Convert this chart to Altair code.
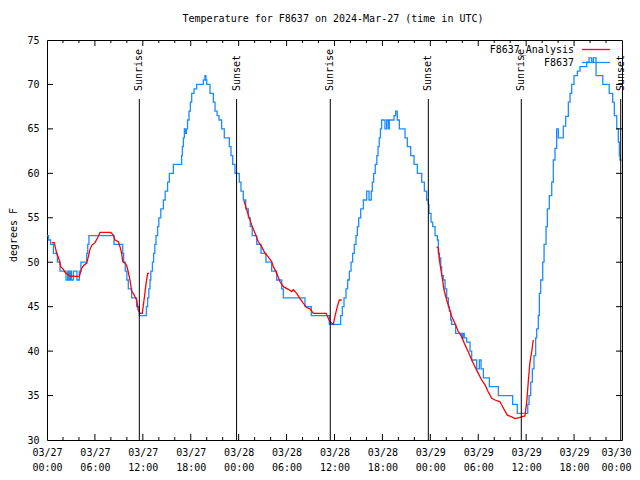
import altair as alt
import pandas as pd

FONT = "DejaVu Sans Mono"
BLUE = "#1a8cff"
RED = "#ff0000"

# Observed station temperature (F8637), hours after 2024-03-27 00:00 UTC, drawn as steps
blue_hours = [0.0, 0.2, 0.45, 0.8, 1.3, 1.63, 2.38, 2.6, 2.75, 2.9, 3.05, 3.3, 3.75, 4.05, 4.25, 4.97,
              5.1, 5.25, 8.39, 9.48, 9.6, 9.8, 10.0, 10.18, 10.6, 11.22, 11.56, 12.45, 12.6, 12.75,
              12.9, 13.0, 13.2, 13.35, 13.5, 13.65, 13.85, 14.0, 14.25, 14.57, 14.8, 15.1, 15.32,
              15.82, 16.86, 16.95, 17.07, 17.2, 17.3, 17.45, 17.6, 17.78, 17.95, 18.12, 18.41,
              18.74, 19.57, 19.78, 19.9, 20.0, 20.41, 20.83, 21.04, 21.3, 21.54, 21.87, 22.2,
              22.83, 23.04, 23.25, 23.54, 24.08, 24.29, 24.58, 24.88, 25.21, 25.45, 25.7, 26.26,
              26.8, 27.42, 28.13, 28.76, 29.39, 29.59, 32.3, 33.1, 35.35, 36.77, 36.98, 37.19,
              37.44, 37.65, 37.86, 38.07, 38.27, 38.48, 38.69, 38.86, 39.03, 39.28, 39.61, 40.03,
              40.32, 40.6, 40.74, 40.9, 41.1, 41.3, 41.45, 41.6, 41.75, 41.9, 42.32, 42.53, 42.74,
              42.86, 43.45, 43.66, 43.86, 44.12, 44.83, 45.12, 45.54, 45.96, 46.37, 46.92, 47.25,
              47.54, 47.75, 47.83, 48.09, 48.3, 48.59, 48.88, 49.0, 49.13, 49.3, 49.42, 49.63,
              49.84, 50.05, 50.26, 50.38, 50.55, 50.67, 51.17, 51.93, 52.1, 52.25, 52.55, 52.97,
              53.18, 53.8, 54.14, 54.35, 54.64, 55.39, 56.52, 58.31, 58.89, 60.2, 60.36, 60.57,
              60.77, 60.98, 61.19, 61.32, 61.52, 61.65, 61.82, 62.07, 62.24, 62.49, 62.65, 62.9,
              63.2, 63.4, 63.61, 63.82, 64.03, 64.65, 64.95, 65.28, 65.49, 65.7, 65.99, 66.41,
              66.74, 67.58, 67.87, 68.2, 68.41, 68.75, 69.59, 70.4, 70.83, 71.04, 71.34, 71.54,
              71.67, 71.75, 71.95]
blue_temps = [53, 52.5, 52, 51, 50, 49, 48, 49, 48, 49, 48, 49, 48, 49, 50, 51,
              52, 53, 52, 51, 50, 49, 48, 47, 46, 45, 44, 45, 46, 47,
              48, 49, 50, 51, 52, 53, 54, 55, 56, 57, 58, 59, 60,
              61, 62, 63, 64, 65, 64.5, 65, 66, 67, 68, 69, 69.5,
              70, 70.5, 71, 70.5, 70, 69, 68, 67, 66.5, 66, 65, 64,
              63, 62, 61, 60, 59, 58, 57, 56, 55, 54, 53, 52,
              51, 50, 49, 48, 47, 46, 45, 44, 43, 44, 45, 46,
              47, 48, 49, 50, 51, 52, 53, 54, 55, 56, 57, 58,
              57, 58, 59, 60, 61, 62, 63, 64, 65, 66, 65, 66, 65,
              66, 66.5, 67, 66, 65, 64, 63, 62, 61, 60, 59, 58,
              57, 56.5, 55.5, 54.5, 54, 53, 52.5, 51, 50.5, 49.5, 48.5, 48,
              47, 46, 45, 44.5, 43.5, 43, 42, 41.5, 42, 41.5, 41, 40,
              39, 38, 39, 38, 37, 36, 35, 34, 33, 34, 35, 36.5,
              38, 39.5, 41.5, 42.5, 44, 46.5, 48, 50, 52, 54, 56, 57.5,
              59, 61.5, 62.8, 65, 64, 65.3, 66.4, 68, 69, 70, 71, 71.5,
              72, 72.5, 73, 72.5, 73, 71, 70, 69, 68, 66.5, 65, 63.5,
              62, 61.5, 61.5]

# Analysis (F8637_Analysis), three overnight runs
red1_hours = [0.59, 0.91, 1.21, 1.54, 1.72, 2.04, 2.25, 2.47, 2.88, 3.72, 4.05, 4.34, 4.55, 4.97,
              5.17, 5.38, 5.6, 6.01, 6.42, 6.64, 7.98, 8.3, 8.51, 8.93, 9.14, 9.35, 9.48, 9.77,
              9.98, 10.18, 10.39, 10.61, 10.81, 11.02, 11.23, 11.43, 11.65, 11.93, 12.15, 12.4,
              12.61, 12.81]
red1_temps = [52.2, 52.2, 51, 50.25, 49.5, 49.2, 48.9, 48.7, 48.45, 48.4, 48.4, 49.3, 49.6, 49.9,
              50.6, 51.45, 51.9, 52.2, 52.9, 53.35, 53.35, 53.06, 52.5, 52.3, 51.75, 51, 50.06, 49.9,
              49.6, 48.9, 48, 46.7, 46.5, 46.1, 45.75, 44.6, 44.25, 44.25, 45.75, 47.6,
              48.75, 48.75]
red2_hours = [24.67, 25.21, 25.63, 26.05, 26.46, 26.88, 27.3, 27.71, 28.14, 28.34, 28.76, 29.18,
              29.59, 30.22, 30.64, 30.84, 31.27, 31.68, 32.09, 32.52, 32.93, 33.35, 34.94, 35.22,
              35.44, 35.85, 36.06, 36.35, 36.6, 36.9]
red2_temps = [56.9, 55.3, 54.2, 53.25, 52.3, 51.75, 51, 50.6, 50.06, 49.5, 48.75, 47.8,
              47.25, 46.95, 46.7, 46.9, 46.5, 45.9, 45.4, 44.9, 44.75, 44.25, 44.25, 43.7,
              43.3, 43.0, 43.9, 45, 45.75, 45.75]
red3_hours = [48.8, 49.0, 49.13, 49.3, 49.5, 49.71, 50.05, 50.38, 50.68, 51.09, 51.5, 51.93, 52.34,
              52.76, 53.18, 53.59, 54.01, 54.43, 54.85, 55.26, 55.69, 56.1, 56.72, 57.14, 57.64,
              58.19, 58.6, 59.02, 59.44, 59.85, 60.07, 60.27, 60.48, 60.69, 60.89]
red3_temps = [51.75, 51.6, 50.25, 49.3, 48.2, 46.9, 45.75, 44.8, 43.9, 43.1, 42.2, 41.6, 40.7,
              39.9, 39.0, 38.25, 37.5, 36.75, 36.2, 35.4, 34.7, 34.5, 34.3, 33.6, 32.8,
              32.6, 32.4, 32.5, 32.6, 32.7, 34.3, 36.6, 38.8, 39.9, 41.25]

sun_hours = [11.56, 23.74, 35.47, 47.75, 59.39, 71.84]
sun_labels = ["Sunrise", "Sunset", "Sunrise", "Sunset", "Sunrise", "Sunset"]

x_label_hours = list(range(0, 73, 6))
x_minor_hours = [h for h in range(2, 72, 2) if h % 6]
x_major_hours = [h for h in range(6, 72, 6)]
y_label_values = list(range(30, 76, 5))
y_tick_values = list(range(35, 75, 5))

title_text = "Temperature for F8637 on 2024-Mar-27 (time in UTC)"
y_title = "degrees F"
legend_names = ["F8637_Analysis", "F8637"]

W, H = 575, 400

blue_df = pd.DataFrame({"h": blue_hours, "t": blue_temps})
red_df = pd.concat([
    pd.DataFrame({"h": red1_hours, "t": red1_temps, "run": 1}),
    pd.DataFrame({"h": red2_hours, "t": red2_temps, "run": 2}),
    pd.DataFrame({"h": red3_hours, "t": red3_temps, "run": 3}),
])
sun_df = pd.DataFrame({"h": sun_hours, "label": sun_labels})

label_expr = ("['03/' + (27 + floor(datum.value / 24)), "
              "(datum.value % 24 < 10 ? '0' : '') + (datum.value % 24) + ':00']")

X = alt.X("h:Q",
          scale=alt.Scale(domain=[0, 72], nice=False, zero=False),
          axis=alt.Axis(values=x_label_hours, labelExpr=label_expr, ticks=False, domain=False,
                        grid=False, labelFont=FONT, labelFontSize=10, labelColor="black",
                        labelPadding=7, labelLineHeight=15, labelFlush=False,
                        labelAlign={"condition": {"test": "datum.value == 72", "value": "right"},
                                    "value": "center"},
                        labelOffset={"condition": {"test": "datum.value == 72", "value": 9},
                                     "value": 0},
                        labelOverlap=False, title=None))
Y = alt.Y("t:Q",
          scale=alt.Scale(domain=[30, 75], nice=False, zero=False),
          axis=alt.Axis(values=y_label_values, ticks=False, domain=False, grid=False,
                        labelFont=FONT, labelFontSize=10, labelColor="black",
                        labelPadding=8, labelFlush=False, labelOverlap=False, title=None))

blue = alt.Chart(blue_df).mark_line(interpolate="step-after", color=BLUE,
                                    strokeWidth=1.3, clip=True).encode(x=X, y=Y)
red = alt.Chart(red_df).mark_line(color=RED, strokeWidth=1.3, clip=True).encode(
    x=X, y=Y, detail="run:N")

sun_rules = alt.Chart(sun_df).mark_rule(color="black", strokeWidth=1).encode(
    x=X, y=alt.value(59), y2=alt.value(H))
sun_text = alt.Chart(sun_df).mark_text(angle=270, align="left", baseline="middle",
                                       font=FONT, fontSize=10, color="black", dx=1).encode(
    x=X, y=alt.value(52), text="label:N")

tick_layers = []
xmaj = pd.DataFrame({"h": x_major_hours})
xmin = pd.DataFrame({"h": x_minor_hours})
for df, ln in [(xmaj, 6), (xmin, 3)]:
    tick_layers.append(alt.Chart(df).mark_rule(color="black", strokeWidth=1).encode(
        x=X, y=alt.value(H), y2=alt.value(H - ln)))
    tick_layers.append(alt.Chart(df).mark_rule(color="black", strokeWidth=1).encode(
        x=X, y=alt.value(0), y2=alt.value(ln)))
ydf = pd.DataFrame({"t": y_tick_values})
tick_layers.append(alt.Chart(ydf).mark_rule(color="black", strokeWidth=1).encode(
    y=Y, x=alt.value(0), x2=alt.value(6)))
tick_layers.append(alt.Chart(ydf).mark_rule(color="black", strokeWidth=1).encode(
    y=Y, x=alt.value(W), x2=alt.value(W - 6)))

title_df = pd.DataFrame({"label": [title_text]})
title = alt.Chart(title_df).mark_text(font=FONT, fontSize=10, color="black",
                                      align="center", baseline="middle").encode(
    x=alt.value(286), y=alt.value(-21), text="label:N")
ytitle_df = pd.DataFrame({"label": [y_title]})
ytitle = alt.Chart(ytitle_df).mark_text(font=FONT, fontSize=10, color="black", angle=270,
                                        align="center", baseline="middle").encode(
    x=alt.value(-33), y=alt.value(195), text="label:N")

legend_layers = []
for name, color, ypix in [(legend_names[0], RED, 9.5), (legend_names[1], BLUE, 22.5)]:
    ldf = pd.DataFrame({"label": [name]})
    legend_layers.append(alt.Chart(ldf).mark_text(font=FONT, fontSize=10, color="black",
                                                  align="right", baseline="middle").encode(
        x=alt.value(527), y=alt.value(ypix), text="label:N"))
    legend_layers.append(alt.Chart(ldf).mark_rule(color=color, strokeWidth=1.3).encode(
        x=alt.value(535), x2=alt.value(563), y=alt.value(ypix)))

chart = alt.layer(blue, red, sun_rules, sun_text, *tick_layers, title, ytitle,
                  *legend_layers).properties(
    width=W, height=H,
    autosize=alt.AutoSizeParams(type="none"),
    padding={"left": 39, "top": 32, "right": 10, "bottom": 32},
).configure_view(stroke="black", strokeWidth=1)

chart.save("out.html", embed_options={"renderer": "svg", "actions": False})
